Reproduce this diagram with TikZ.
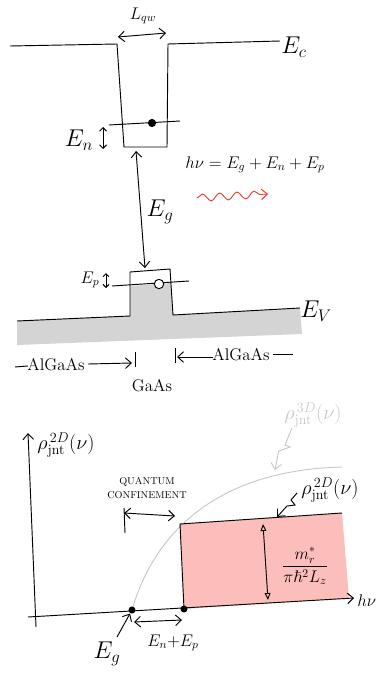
\documentclass[tikz,border=0pt]{standalone}
\usepackage{amsmath}
\usepackage{amssymb}
\usepackage{tikz}
\usetikzlibrary{arrows.meta, calc, decorations.pathmorphing}
\usepackage{xcolor}
\definecolor{bandgray}{RGB}{212,212,212}
\definecolor{dospink}{RGB}{252,190,186}
\definecolor{photonred}{RGB}{238,58,50}
\definecolor{curvegray}{RGB}{200,200,200}
\newcommand{\rhojnt}[1]{\rho^{\,#1}_{\mathrm{jnt}}(\nu)}

\begin{document}
\begin{tikzpicture}[x=0.03cm, y=-0.03cm, line width=0.8pt,
    >={Straight Barb[length=5pt, width=9pt]},
    biglbl/.style={font=\fontsize{21}{24}\selectfont, inner sep=1pt},
    medlbl/.style={font=\Large, inner sep=1pt},
    smalllbl/.style={font=\fontsize{8.5}{10}\selectfont, inner sep=1pt, align=center},
    dot/.style={circle, fill=black, inner sep=0pt, minimum size=7pt},
    hole/.style={circle, draw=black, fill=white, line width=0.8pt, inner sep=0pt, minimum size=8pt},
    dblarrow/.style={<->, line width=0.8pt}]
  \useasboundingbox (0,0) rectangle (379,677);

  % Conduction band well
  \coordinate (ecl) at (10,46);
  \coordinate (wtl) at (117,44);
  \coordinate (wbl) at (124,147);
  \coordinate (wbr) at (167,147);
  \coordinate (wtr) at (168,44);
  \coordinate (ecr) at (280,41);
  \draw (ecl) -- (wtl) -- (wbl) -- (wbr) -- (wtr) -- (ecr);
  \node[biglbl] (Ec) at (294,47) {$E_c$};

  % Well width
  \coordinate (lqa) at (118,37);
  \coordinate (lqb) at (166,33);
  \draw[dblarrow] (lqa) -- (lqb);
  \node[medlbl] (Lqw) at (143,16) {$L_{qw}$};

  % Electron level
  \coordinate (ena) at (109,125);
  \coordinate (enb) at (180,121);
  \draw (ena) -- (enb);
  \node[dot] (elec) at (152,123) {};
  \node[biglbl] (En) at (79,140) {$E_n$};
  \coordinate (ent) at (103,127);
  \coordinate (enbt) at (103,149);
  \draw[dblarrow, >={Straight Barb[length=3pt, width=6pt]}] (ent) -- (enbt);

  % Valence band
  \fill[bandgray] (17,321) -- (130,316) -- (130,286) -- (171,283) -- (173,315)
    -- (300,308) -- (302,334) -- (17,345) -- cycle;
  \coordinate (evl) at (17,321);
  \coordinate (bbl) at (130,316);
  \coordinate (btl) at (130,272);
  \coordinate (btr) at (170,269);
  \coordinate (bbr) at (173,315);
  \coordinate (evr) at (300,308);
  \draw (evl) -- (bbl) -- (btl) -- (btr) -- (bbr) -- (evr);
  \node[biglbl] (Ev) at (316,311) {$E_V$};

  % Hole level
  \coordinate (epa) at (112,286);
  \coordinate (epb) at (189,281);
  \draw (epa) -- (epb);
  \node[hole] (hl) at (159,284) {};
  \node[medlbl] (Ep) at (90,280) {$E_p$};
  \coordinate (ept) at (106,273);
  \coordinate (epbt) at (106,288);
  \draw[dblarrow, >={Straight Barb[length=2.5pt, width=5pt]}] (ept) -- (epbt);

  % Band gap
  \coordinate (gtop) at (136,151);
  \coordinate (gbot) at (145,268);
  \draw[dblarrow] (gtop) -- (gbot);
  \node[biglbl] (Eg) at (160,212) {$E_g$};

  % Photon
  \node[medlbl] (hv) at (255,165) {$h\nu = E_g + E_n + E_p$};
  \coordinate (wva) at (197,198);
  \coordinate (wvb) at (268,194);
  \draw[photonred, ->, decorate,
    decoration={snake, amplitude=1.1mm, segment length=5.2mm, post length=1.5mm}] (wva) -- (wvb);

  % Materials
  \node[medlbl] (alga) at (56,365) {AlGaAs};
  \coordinate (dla) at (15,367);
  \coordinate (dlb) at (28,366);
  \draw (dla) -- (dlb);
  \coordinate (ala) at (88,364);
  \coordinate (alb) at (132,363);
  \draw[->] (ala) -- (alb);
  \coordinate (tla) at (135,352);
  \coordinate (tlb) at (135,367);
  \draw (tla) -- (tlb);
  \node[medlbl] (gaas) at (152,386) {GaAs};
  \coordinate (tra) at (175,348);
  \coordinate (trb) at (175,363);
  \draw (tra) -- (trb);
  \coordinate (ara) at (213,357);
  \coordinate (arb) at (177,357);
  \draw[->] (ara) -- (arb);
  \node[medlbl] (algb) at (241,355) {AlGaAs};
  \coordinate (dra) at (273,354);
  \coordinate (drb) at (293,354);
  \draw (dra) -- (drb);

  % Density of states axes
  \fill[dospink] (180,524) -- (342,513) -- (349,598) -- (184,609) -- cycle;
  \coordinate (yb) at (36,627);
  \coordinate (yt) at (28,433);
  \draw[->] (yb) -- (yt);
  \coordinate (xl) at (28,617);
  \coordinate (xr) at (354,598);
  \draw[->] (xl) -- (xr);
  \node[font=\Large, inner sep=0pt, anchor=west] (hvx) at (357,601) {$h\nu$};
  \node[font=\LARGE] (rho2a) at (66,445) {$\rhojnt{2D}$};

  % 3D curve
  \coordinate (c3a) at (132,610);
  \coordinate (c3b) at (342,467);
  \draw[curvegray] (c3a) .. controls (155,530) and (220,470) .. (c3b);
  \node[font=\LARGE, text=curvegray] (rho3) at (313,415) {$\rhojnt{3D}$};
  \coordinate (s3a) at (292,428);
  \coordinate (s3b) at (275,470);
  \draw[curvegray, ->] (s3a) -- (285,445) -- (290,447) -- ($(s3a)!0.55!(s3b)+(-4,0)$) -- (s3b);

  % 2D step
  \coordinate (stl) at (180,524);
  \coordinate (str) at (342,513);
  \coordinate (sbl) at (184,609);
  \draw (sbl) -- (stl) -- (str);
  \node[font=\LARGE] (rho2b) at (330,490) {$\rhojnt{2D}$};
  \coordinate (s2a) at (297,493);
  \coordinate (s2b) at (277,517);
  \draw[->] (s2a) -- (291,500) -- (295,505) -- (287,506) -- (s2b);

  % Step height
  \coordinate (hta) at (263,524);
  \coordinate (htb) at (268,600);
  \draw[{Triangle[open, length=6pt, width=5pt]}-{Triangle[open, length=6pt, width=5pt]}] (hta) -- (htb);
  \node[font=\Large] (frac) at (305,566) {$\dfrac{m_r^{*}}{\pi\hbar^2 L_z}$};

  % Band edge points
  \node[dot, minimum size=6pt] (pg) at (132,610) {};
  \node[dot, minimum size=6pt] (pn) at (184,609) {};

  % Quantum confinement
  \node[smalllbl] (qc) at (147,488) {QUANTUM\\[2pt] CONFINEMENT};
  \coordinate (qta) at (124,508);
  \coordinate (qtb) at (125,533);
  \draw (qta) -- (qtb);
  \coordinate (qaa) at (124,513);
  \coordinate (qab) at (175,516);
  \draw[dblarrow] (qaa) -- (qab);

  % Offsets on axis
  \coordinate (oa) at (134,622);
  \coordinate (ob) at (182,620);
  \draw[dblarrow] (oa) -- (ob);
  \node[medlbl] (EnEp) at (173,643) {$E_n{+}E_p$};
  \node[biglbl] (Eg2) at (107,654) {$E_g$};
  \coordinate (ega) at (117,637);
  \draw[->] (ega) -- (pg);
\end{tikzpicture}
\end{document}
